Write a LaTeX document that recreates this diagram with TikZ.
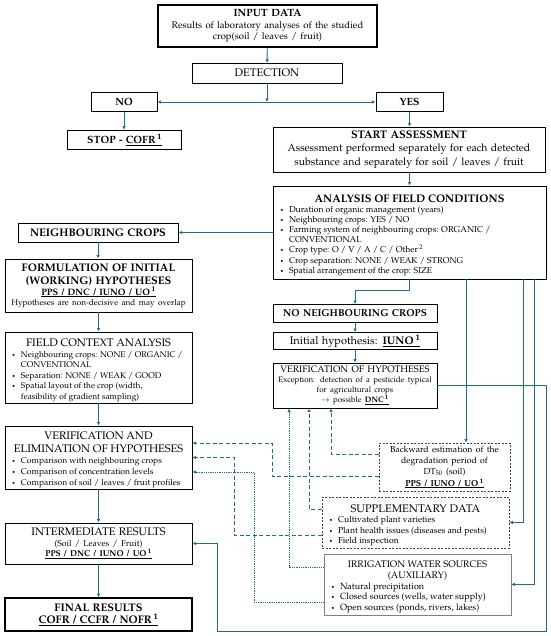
\documentclass[tikz,border=0pt]{standalone}
\usepackage[T1]{fontenc}
\usepackage{mathpazo}
\usetikzlibrary{arrows.meta}
\definecolor{tealc}{RGB}{31,108,140}
\newcommand{\fs}[2]{\fontsize{#1}{#2}\selectfont}
\newcommand{\bitem}[1]{\par\noindent\hangindent=12pt\hangafter=1\makebox[12pt][l]{\hspace{3pt}{\fontsize{6}{6}\selectfont\textbullet}}#1}
\newcommand{\ctr}[1]{\par\noindent\makebox[\hsize][c]{#1}}
\newcommand{\sone}{\,\textsuperscript{1}}
\begin{document}
\begin{tikzpicture}[x=1pt,y=-1pt,
  box/.style={draw=black, line width=0.9pt, inner xsep=4pt, inner ysep=0pt, align=center, fill=white},
  thickbox/.style={box, line width=1.7pt},
  lbox/.style={box, align=flush left},
  dbox/.style={draw=black!75, dash pattern=on 2pt off 1.5pt, line width=0.7pt, inner xsep=4pt, inner ysep=0pt, align=center},
  ldbox/.style={dbox, align=flush left},
  gbox/.style={draw=black!50, line width=0.8pt, inner xsep=4pt, inner ysep=0pt, align=flush left},
  arr/.style={draw=tealc, line width=0.95pt, -{Latex[length=3.5pt,width=3.5pt]}},
  darr/.style={arr, dash pattern=on 4pt off 2.5pt},
  oarr/.style={arr, dash pattern=on 1pt off 0.8pt}]
\useasboundingbox (0,0) rectangle (550,636);

% nodes
\node[thickbox, minimum width=219pt, minimum height=42pt, text width=211pt] (input) at (267.5,26)
  {{\fs{10.5}{12}\bfseries INPUT DATA\par}{\fs{9.5}{11.5}Results of laboratory analyses of the studied\\ crop(soil / leaves / fruit)\par}};
\node[box, minimum width=150pt, minimum height=20pt, text width=142pt] (detect) at (267,73.3)
  {\fs{11}{13}DETECTION};
\node[box, minimum width=66pt, minimum height=19pt, text width=58pt] (no) at (124,102)
  {\fs{10.5}{12}\bfseries NO};
\node[box, minimum width=67pt, minimum height=19pt, text width=59pt] (yes) at (409.5,102)
  {\fs{10.5}{12}\bfseries YES};
\node[box, minimum width=114pt, minimum height=19pt, text width=106pt] (stop) at (124.5,139.7)
  {\fs{10.5}{12}\bfseries STOP - \underline{COFR\sone}};
\node[box, minimum width=272pt, minimum height=45pt, text width=264pt] (start) at (409,149.5)
  {{\fs{11}{13}\bfseries START ASSESSMENT\par}{\fs{10.5}{13.5}Assessment performed separately for each detected\\ substance and separately for soil / leaves / fruit\par}};
\node[lbox, minimum width=273pt, minimum height=93pt, text width=265pt] (analysis) at (409.5,232.5)
  {{\fs{11}{13}\bfseries\ctr{ANALYSIS OF FIELD CONDITIONS}\par}%
   {\fs{8.6}{10.1}\bitem{Duration of organic management (years)}\bitem{Neighbouring crops: YES / NO}%
   \bitem{Farming system of neighbouring crops: ORGANIC /\newline CONVENTIONAL}\bitem{Crop type: O / V / A / C / Other\,\textsuperscript{2}}%
   \bitem{Crop separation: NONE / WEAK / STRONG}\bitem{Spatial arrangement of the crop: SIZE}\par}};
\node[box, minimum width=160pt, minimum height=19pt, text width=152pt] (neigh) at (98,232.5)
  {\fs{11}{13}\bfseries NEIGHBOURING CROPS};
\node[box, minimum width=187pt, minimum height=53pt, text width=179pt] (form) at (98.5,285.5)
  {{\fs{11}{13}\bfseries FORMULATION OF INITIAL\\ (WORKING) HYPOTHESES\par}{\fs{9.3}{11}\bfseries\underline{PPS / DNC / IUNO / UO\sone}\par}{\fs{8.2}{10}Hypotheses are non-decisive and may overlap\par}};
\node[lbox, minimum width=187pt, minimum height=71pt, text width=179pt] (fca) at (98.5,367.5)
  {{\fs{11}{13}\ctr{FIELD CONTEXT ANALYSIS}\par}%
   {\fs{8.35}{10.5}\bitem{Neighbouring crops: NONE / ORGANIC /\newline CONVENTIONAL}\bitem{Separation: NONE / WEAK / GOOD}%
   \bitem{Spatial layout of the crop (width,\newline feasibility of gradient sampling)}\par}};
\node[lbox, minimum width=187pt, minimum height=63pt, text width=179pt] (vae) at (98.5,457.5)
  {{\fs{11}{13}\ctr{VERIFICATION AND}\ctr{ELIMINATION OF HYPOTHESES}\par}%
   {\fs{8.45}{11}\bitem{Comparison with neighbouring crops}\bitem{Comparison of concentration levels}%
   \bitem{Comparison of soil / leaves / fruit profiles}\par}};
\node[box, minimum width=187pt, minimum height=41pt, text width=179pt] (inter) at (98.5,543.5)
  {{\fs{11}{13}INTERMEDIATE RESULTS\par}{\fs{8.5}{10.5}(Soil / Leaves / Fruit)\par}{\fs{8.5}{10.5}\bfseries\underline{PPS / DNC / IUNO / UO\sone}\par}};
\node[thickbox, minimum width=187pt, minimum height=33pt, text width=179pt] (final) at (98.5,614.5)
  {\fs{11}{13}\bfseries FINAL RESULTS\\ \underline{COFR / CCFR / NOFR\sone}};
\node[box, minimum width=164pt, minimum height=18pt, text width=156pt] (nonb) at (355,313.5)
  {\fs{10}{12}\bfseries NO NEIGHBOURING CROPS};
\node[box, minimum width=164pt, minimum height=17pt, text width=156pt] (ih) at (355,341)
  {\fs{11}{13}Initial hypothesis: \underline{\textbf{IUNO\sone}}};
\node[box, minimum width=164pt, minimum height=45pt, text width=156pt] (voh) at (355,385.5)
  {{\fs{9.4}{11}VERIFICATION OF HYPOTHESES\par}{\fs{7.9}{10}Exception: detection of a pesticide typical\\ for agricultural crops\\ $\rightarrow$ possible \underline{\textbf{DNC\sone}}\par}};
\node[dbox, minimum width=131pt, minimum height=48pt, text width=123pt] (back) at (444.5,467)
  {\fs{8.7}{11}Backward estimation of the\\ degradation period of\\ DT\textsubscript{50} (soil)\\ \textbf{\underline{PPS / IUNO / UO\sone}}};
\node[ldbox, minimum width=187pt, minimum height=51pt, text width=179pt] (supp) at (415.5,522.5)
  {{\fs{11}{13}\ctr{SUPPLEMENTARY DATA}\par}%
   {\fs{8.65}{10.5}\bitem{Cultivated plant varieties}\bitem{Plant health issues (diseases and pests)}\bitem{Field inspection}\par}};
\node[gbox, minimum width=187pt, minimum height=61pt, text width=179pt] (irr) at (417.5,584.5)
  {{\fs{9.5}{11.5}\ctr{IRRIGATION WATER SOURCES}\ctr{(AUXILIARY)}\par}%
   {\fs{9}{10.5}\bitem{Natural precipitation}\bitem{Closed sources (wells, water supply)}\bitem{Open sources (ponds, rivers, lakes)}\par}};

% solid connectors
\draw[arr] (input) -- (detect);
\coordinate (split) at (detect.south |- no.east);
\draw[arr] (detect.south) -- (split);
\draw[arr] (split) -- (no.east);
\draw[arr] (split) -- (yes.west);
\draw[arr] (no.south) -- (no.south |- stop.north);
\draw[arr] (yes.south) -- (yes.south |- start.north);
\draw[arr] (start.south -| analysis.north) -- (analysis.north);
\draw[arr] (analysis.west) -- (neigh.east);
\draw[arr] (neigh.south) -- (neigh.south |- form.north);
\draw[arr] (form) -- (fca);
\draw[arr] (fca) -- (vae);
\draw[arr] (vae) -- (inter);
\draw[arr] (inter) -- (final);
\draw[arr] (analysis.south) -- ++(0,11) -| (nonb.north);
\draw[arr] (nonb) -- (ih);
\draw[arr] (ih) -- (voh);
\coordinate (x466) at (466,0);
\coordinate (x523) at (523,0);
\coordinate (x534) at (534,0);
\draw[arr] (x466 |- analysis.south) -- (x466 |- back.north);
\draw[arr] (x523 |- analysis.south) |- (supp.east);
\draw[arr] (x534 |- analysis.south) |- (irr.east);
\coordinate (rb) at (546,631);
\coordinate (lb) at (217,631);
\draw[arr] (voh.east) -| (rb) -- (lb) |- (inter.east);

% dashed / dotted connectors
\coordinate (b1) at (272,443);
\coordinate (b2) at (234,457.5);
\coordinate (b3) at (254,472);
\draw[darr] ([yshift=13pt]back.west) -| ([xshift=-24pt]voh.south);
\draw[darr] ([yshift=-9pt]back.west) -| (b1) -- (b1 -| vae.east);
\draw[darr] ([yshift=13.5pt]supp.west) -| ([xshift=-46pt]voh.south);
\draw[darr] ([yshift=-12.5pt]supp.west) -| (b2) -- (vae.east);
\draw[oarr] ([yshift=17.5pt]irr.west) -| ([xshift=-66pt]voh.south);
\draw[oarr] ([yshift=-17.5pt]irr.west) -| (b3) -- (b3 -| vae.east);
\end{tikzpicture}
\end{document}
